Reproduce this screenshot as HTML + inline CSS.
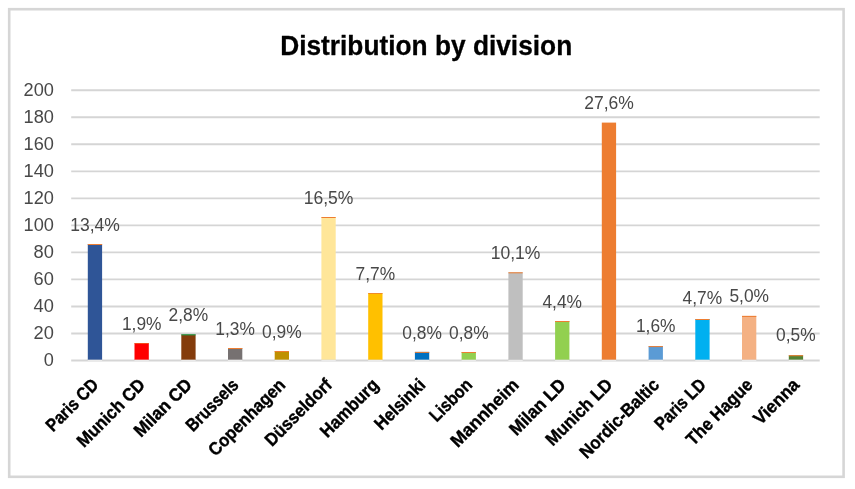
<!DOCTYPE html>
<html lang="en"><head><meta charset="utf-8"><title>Distribution by division</title>
<style>html,body{margin:0;padding:0;background:#fff;overflow:hidden}svg{display:block}text{font-family:"Liberation Sans",sans-serif}.v{font-size:18.0px;fill:#484848}.c{font-size:18.0px;font-weight:bold;fill:#000;stroke:#000;stroke-width:.4px;stroke-linejoin:round}.t{font-size:28.3px;font-weight:bold;fill:#000;stroke:#000;stroke-width:.3px;stroke-linejoin:round}</style></head><body>
<svg width="855" height="489" viewBox="0 0 855 489">
<rect x="0" y="0" width="855" height="489" fill="#fff"/>
<rect x="9.2" y="9.2" width="834.4" height="467.6" fill="#fff" stroke="#d6d6d6" stroke-width="2.6"/>
<text class="t" x="426.2" y="54.6" text-anchor="middle" textLength="292.0" lengthAdjust="spacingAndGlyphs">Distribution by division</text>
<line x1="71.2" x2="819.7" y1="333.5" y2="333.5" stroke="#d5d5d5" stroke-width="1.9"/>
<line x1="71.2" x2="819.7" y1="306.5" y2="306.5" stroke="#d5d5d5" stroke-width="1.9"/>
<line x1="71.2" x2="819.7" y1="279.4" y2="279.4" stroke="#d5d5d5" stroke-width="1.9"/>
<line x1="71.2" x2="819.7" y1="252.4" y2="252.4" stroke="#d5d5d5" stroke-width="1.9"/>
<line x1="71.2" x2="819.7" y1="225.4" y2="225.4" stroke="#d5d5d5" stroke-width="1.9"/>
<line x1="71.2" x2="819.7" y1="198.4" y2="198.4" stroke="#d5d5d5" stroke-width="1.9"/>
<line x1="71.2" x2="819.7" y1="171.4" y2="171.4" stroke="#d5d5d5" stroke-width="1.9"/>
<line x1="71.2" x2="819.7" y1="144.3" y2="144.3" stroke="#d5d5d5" stroke-width="1.9"/>
<line x1="71.2" x2="819.7" y1="117.3" y2="117.3" stroke="#d5d5d5" stroke-width="1.9"/>
<line x1="71.2" x2="819.7" y1="90.3" y2="90.3" stroke="#d5d5d5" stroke-width="1.9"/>
<text class="v" x="53.9" y="366.0" text-anchor="end" textLength="10.1" lengthAdjust="spacingAndGlyphs">0</text>
<text class="v" x="53.9" y="339.0" text-anchor="end" textLength="20.3" lengthAdjust="spacingAndGlyphs">20</text>
<text class="v" x="53.9" y="312.0" text-anchor="end" textLength="20.3" lengthAdjust="spacingAndGlyphs">40</text>
<text class="v" x="53.9" y="284.9" text-anchor="end" textLength="20.3" lengthAdjust="spacingAndGlyphs">60</text>
<text class="v" x="53.9" y="257.9" text-anchor="end" textLength="20.3" lengthAdjust="spacingAndGlyphs">80</text>
<text class="v" x="53.9" y="230.9" text-anchor="end" textLength="30.4" lengthAdjust="spacingAndGlyphs">100</text>
<text class="v" x="53.9" y="203.9" text-anchor="end" textLength="30.4" lengthAdjust="spacingAndGlyphs">120</text>
<text class="v" x="53.9" y="176.9" text-anchor="end" textLength="30.4" lengthAdjust="spacingAndGlyphs">140</text>
<text class="v" x="53.9" y="149.8" text-anchor="end" textLength="30.4" lengthAdjust="spacingAndGlyphs">160</text>
<text class="v" x="53.9" y="122.8" text-anchor="end" textLength="30.4" lengthAdjust="spacingAndGlyphs">180</text>
<text class="v" x="53.9" y="95.8" text-anchor="end" textLength="30.4" lengthAdjust="spacingAndGlyphs">200</text>
<rect x="87.8" y="244.0" width="14.3" height="116.5" fill="#2f5597"/>
<rect x="87.8" y="244.0" width="14.3" height="1" fill="#ed7d31"/>
<rect x="134.5" y="343.0" width="14.3" height="17.5" fill="#ff0000"/>
<rect x="134.5" y="343.0" width="14.3" height="0.6" fill="#ed7d31"/>
<rect x="181.3" y="334.4" width="14.3" height="26.1" fill="#843c0c"/>
<rect x="181.3" y="334.4" width="14.3" height="0.9" fill="#00b050"/>
<rect x="228.0" y="348.0" width="14.3" height="12.5" fill="#767171"/>
<rect x="228.0" y="348.0" width="14.3" height="1" fill="#ed7d31"/>
<rect x="274.7" y="351.0" width="14.3" height="9.5" fill="#bf9000"/>
<rect x="274.7" y="351.0" width="14.3" height="1" fill="#ed7d31"/>
<rect x="321.4" y="217.0" width="14.3" height="143.5" fill="#ffe699"/>
<rect x="321.4" y="217.0" width="14.3" height="1" fill="#ed7d31"/>
<rect x="368.2" y="293.0" width="14.3" height="67.5" fill="#ffc000"/>
<rect x="368.2" y="293.0" width="14.3" height="0.8" fill="#ed7d31"/>
<rect x="414.9" y="351.9" width="14.3" height="8.6" fill="#0070c0"/>
<rect x="414.9" y="351.9" width="14.3" height="1" fill="#ed7d31"/>
<rect x="461.6" y="352.0" width="14.3" height="8.5" fill="#92d050"/>
<rect x="461.6" y="352.0" width="14.3" height="1" fill="#ed7d31"/>
<rect x="508.4" y="272.3" width="14.3" height="88.2" fill="#bfbfbf"/>
<rect x="508.4" y="272.3" width="14.3" height="1" fill="#ed7d31"/>
<rect x="555.1" y="321.0" width="14.3" height="39.5" fill="#92d050"/>
<rect x="555.1" y="321.0" width="14.3" height="1" fill="#ed7d31"/>
<rect x="601.8" y="122.6" width="14.3" height="237.9" fill="#ed7d31"/>
<rect x="648.6" y="346.1" width="14.3" height="14.4" fill="#5b9bd5"/>
<rect x="648.6" y="346.1" width="14.3" height="1" fill="#ed7d31"/>
<rect x="695.3" y="319.0" width="14.3" height="41.5" fill="#00b0f0"/>
<rect x="695.3" y="319.0" width="14.3" height="1" fill="#ed7d31"/>
<rect x="742.0" y="315.9" width="14.3" height="44.6" fill="#f4b183"/>
<rect x="742.0" y="315.9" width="14.3" height="1" fill="#ed7d31"/>
<rect x="788.8" y="355.2" width="14.3" height="5.3" fill="#548235"/>
<rect x="788.8" y="355.2" width="14.3" height="1" fill="#ed7d31"/>
<line x1="71.2" x2="819.7" y1="360.5" y2="360.5" stroke="#d5d5d5" stroke-width="1.9"/>
<rect x="87.8" y="359.50" width="14.3" height="0.4" fill="#2f5597"/>
<rect x="87.8" y="359.90" width="14.3" height="1.55" fill="#ebebeb"/>
<rect x="134.5" y="359.50" width="14.3" height="0.4" fill="#ff0000"/>
<rect x="134.5" y="359.90" width="14.3" height="1.55" fill="#ebebeb"/>
<rect x="181.3" y="359.50" width="14.3" height="0.4" fill="#843c0c"/>
<rect x="181.3" y="359.90" width="14.3" height="1.55" fill="#ebebeb"/>
<rect x="228.0" y="359.50" width="14.3" height="0.4" fill="#767171"/>
<rect x="228.0" y="359.90" width="14.3" height="1.55" fill="#ebebeb"/>
<rect x="274.7" y="359.50" width="14.3" height="0.4" fill="#bf9000"/>
<rect x="274.7" y="359.90" width="14.3" height="1.55" fill="#ebebeb"/>
<rect x="321.4" y="359.50" width="14.3" height="0.4" fill="#ffe699"/>
<rect x="321.4" y="359.90" width="14.3" height="1.55" fill="#ebebeb"/>
<rect x="368.2" y="359.50" width="14.3" height="0.4" fill="#ffc000"/>
<rect x="368.2" y="359.90" width="14.3" height="1.55" fill="#ebebeb"/>
<rect x="414.9" y="359.50" width="14.3" height="0.4" fill="#0070c0"/>
<rect x="414.9" y="359.90" width="14.3" height="1.55" fill="#ebebeb"/>
<rect x="461.6" y="359.50" width="14.3" height="0.4" fill="#92d050"/>
<rect x="461.6" y="359.90" width="14.3" height="1.55" fill="#ebebeb"/>
<rect x="508.4" y="359.50" width="14.3" height="0.4" fill="#bfbfbf"/>
<rect x="508.4" y="359.90" width="14.3" height="1.55" fill="#ebebeb"/>
<rect x="555.1" y="359.50" width="14.3" height="0.4" fill="#92d050"/>
<rect x="555.1" y="359.90" width="14.3" height="1.55" fill="#ebebeb"/>
<rect x="601.8" y="359.50" width="14.3" height="0.4" fill="#ed7d31"/>
<rect x="601.8" y="359.90" width="14.3" height="1.55" fill="#ebebeb"/>
<rect x="648.6" y="359.50" width="14.3" height="0.4" fill="#5b9bd5"/>
<rect x="648.6" y="359.90" width="14.3" height="1.55" fill="#ebebeb"/>
<rect x="695.3" y="359.50" width="14.3" height="0.4" fill="#00b0f0"/>
<rect x="695.3" y="359.90" width="14.3" height="1.55" fill="#ebebeb"/>
<rect x="742.0" y="359.50" width="14.3" height="0.4" fill="#f4b183"/>
<rect x="742.0" y="359.90" width="14.3" height="1.55" fill="#ebebeb"/>
<rect x="788.8" y="359.50" width="14.3" height="0.4" fill="#548235"/>
<rect x="788.8" y="359.90" width="14.3" height="1.55" fill="#ebebeb"/>
<text class="v" x="95.0" y="230.9" text-anchor="middle" textLength="49.7" lengthAdjust="spacingAndGlyphs">13,4%</text>
<text class="v" x="141.7" y="329.6" text-anchor="middle" textLength="39.6" lengthAdjust="spacingAndGlyphs">1,9%</text>
<text class="v" x="188.4" y="321.4" text-anchor="middle" textLength="39.6" lengthAdjust="spacingAndGlyphs">2,8%</text>
<text class="v" x="235.1" y="334.7" text-anchor="middle" textLength="39.6" lengthAdjust="spacingAndGlyphs">1,3%</text>
<text class="v" x="281.9" y="338.3" text-anchor="middle" textLength="39.6" lengthAdjust="spacingAndGlyphs">0,9%</text>
<text class="v" x="328.6" y="203.9" text-anchor="middle" textLength="49.7" lengthAdjust="spacingAndGlyphs">16,5%</text>
<text class="v" x="375.3" y="279.9" text-anchor="middle" textLength="39.6" lengthAdjust="spacingAndGlyphs">7,7%</text>
<text class="v" x="422.1" y="338.9" text-anchor="middle" textLength="39.6" lengthAdjust="spacingAndGlyphs">0,8%</text>
<text class="v" x="468.8" y="338.9" text-anchor="middle" textLength="39.6" lengthAdjust="spacingAndGlyphs">0,8%</text>
<text class="v" x="515.5" y="259.2" text-anchor="middle" textLength="49.7" lengthAdjust="spacingAndGlyphs">10,1%</text>
<text class="v" x="562.2" y="307.6" text-anchor="middle" textLength="39.6" lengthAdjust="spacingAndGlyphs">4,4%</text>
<text class="v" x="609.0" y="109.4" text-anchor="middle" textLength="49.7" lengthAdjust="spacingAndGlyphs">27,6%</text>
<text class="v" x="655.7" y="332.0" text-anchor="middle" textLength="39.6" lengthAdjust="spacingAndGlyphs">1,6%</text>
<text class="v" x="702.4" y="304.4" text-anchor="middle" textLength="39.6" lengthAdjust="spacingAndGlyphs">4,7%</text>
<text class="v" x="749.2" y="302.2" text-anchor="middle" textLength="39.6" lengthAdjust="spacingAndGlyphs">5,0%</text>
<text class="v" x="795.9" y="341.3" text-anchor="middle" textLength="39.6" lengthAdjust="spacingAndGlyphs">0,5%</text>
<text class="c" transform="translate(99.5,386.0) rotate(-45)" text-anchor="end" textLength="65.8" lengthAdjust="spacingAndGlyphs">Paris CD</text>
<text class="c" transform="translate(146.2,386.0) rotate(-45)" text-anchor="end" textLength="88.0" lengthAdjust="spacingAndGlyphs">Munich CD</text>
<text class="c" transform="translate(192.9,386.0) rotate(-45)" text-anchor="end" textLength="73.4" lengthAdjust="spacingAndGlyphs">Milan CD</text>
<text class="c" transform="translate(239.6,386.0) rotate(-45)" text-anchor="end" textLength="65.9" lengthAdjust="spacingAndGlyphs">Brussels</text>
<text class="c" transform="translate(286.4,386.0) rotate(-45)" text-anchor="end" textLength="100.4" lengthAdjust="spacingAndGlyphs">Copenhagen</text>
<text class="c" transform="translate(333.1,386.0) rotate(-45)" text-anchor="end" textLength="86.5" lengthAdjust="spacingAndGlyphs">Düsseldorf</text>
<text class="c" transform="translate(379.8,386.0) rotate(-45)" text-anchor="end" textLength="74.3" lengthAdjust="spacingAndGlyphs">Hamburg</text>
<text class="c" transform="translate(426.6,386.0) rotate(-45)" text-anchor="end" textLength="63.8" lengthAdjust="spacingAndGlyphs">Helsinki</text>
<text class="c" transform="translate(473.3,386.0) rotate(-45)" text-anchor="end" textLength="52.0" lengthAdjust="spacingAndGlyphs">Lisbon</text>
<text class="c" transform="translate(520.0,386.0) rotate(-45)" text-anchor="end" textLength="88.1" lengthAdjust="spacingAndGlyphs">Mannheim</text>
<text class="c" transform="translate(566.8,386.0) rotate(-45)" text-anchor="end" textLength="71.3" lengthAdjust="spacingAndGlyphs">Milan LD</text>
<text class="c" transform="translate(613.5,386.0) rotate(-45)" text-anchor="end" textLength="85.9" lengthAdjust="spacingAndGlyphs">Munich LD</text>
<text class="c" transform="translate(660.2,386.0) rotate(-45)" text-anchor="end" textLength="103.8" lengthAdjust="spacingAndGlyphs">Nordic-Baltic</text>
<text class="c" transform="translate(706.9,386.0) rotate(-45)" text-anchor="end" textLength="63.7" lengthAdjust="spacingAndGlyphs">Paris LD</text>
<text class="c" transform="translate(753.7,386.0) rotate(-45)" text-anchor="end" textLength="85.4" lengthAdjust="spacingAndGlyphs">The Hague</text>
<text class="c" transform="translate(800.4,386.0) rotate(-45)" text-anchor="end" textLength="56.4" lengthAdjust="spacingAndGlyphs">Vienna</text>
</svg></body></html>
